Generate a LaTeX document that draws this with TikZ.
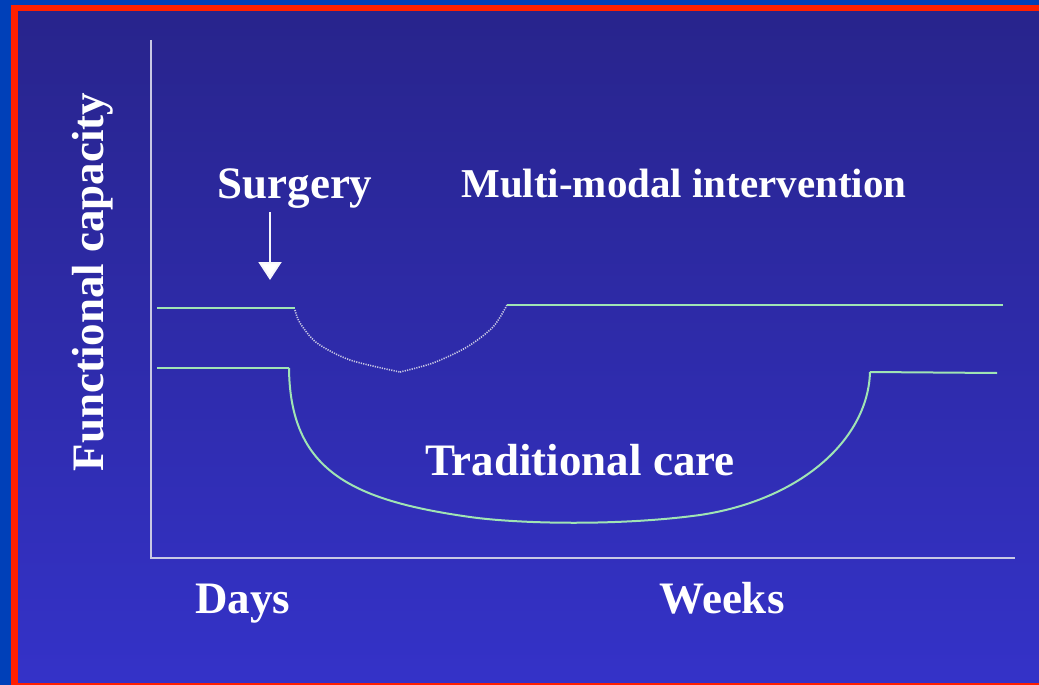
\documentclass[tikz,border=0pt]{standalone}
\usepackage{fontspec}
\setmainfont{Liberation Serif}
\usetikzlibrary{arrows.meta}

\definecolor{slideblue}{RGB}{0,64,184}
\definecolor{slidered}{RGB}{255,32,0}
\definecolor{slidetop}{RGB}{40,36,140}
\definecolor{slidebottom}{RGB}{52,50,200}
\definecolor{axisgray}{RGB}{200,200,228}
\definecolor{caregreen}{RGB}{160,228,180}

\tikzstyle{label text}=[text=white,inner sep=0pt,anchor=base,
    font=\fontsize{45}{50}\selectfont\bfseries]
\tikzstyle{axis line}=[draw=axisgray,line width=2pt]
\tikzstyle{care line}=[draw=caregreen,line width=2pt]
\tikzstyle{care dotted}=[draw=axisgray,line width=1.6pt,
    dash pattern=on 1.2pt off 1.2pt]
\tikzstyle{surgery arrow}=[draw=white!85!axisgray,line width=2pt,
    -{Triangle[width=23pt,length=18pt,fill=white]}]

\begin{document}
\begin{tikzpicture}[x=1pt,y=-1pt]
    \useasboundingbox (0,0) rectangle (1039,685);
    % slide frame
    \fill[slideblue] (0,0) rectangle (1039,685);
    \fill[slidered] (11,5) rectangle (1039,685);
    \shade[top color=slidetop,bottom color=slidebottom] (18,12) rectangle (1039,682);
    %
    \coordinate (ytop) at (151,40);
    \coordinate (origin) at (151,558);
    \coordinate (xend) at (1015,558);
    \draw[axis line] (ytop) -- (origin) -- (xend);
    %
    \node[label text,rotate=90] (capacity) at (103,282) {Functional capacity};
    \node[label text] (days) at (243,613) {Days};
    \node[label text] (weeks) at (722,613) {Weeks};
    \node[label text] (surgery) at (295,198) {Surgery};
    \node[label text,font=\fontsize{41}{46}\selectfont\bfseries] (multimodal)
        at (684,197) {Multi-modal intervention};
    \node[label text] (traditional) at (580,475) {Traditional care};
    %
    \coordinate (arrowstart) at (270,212);
    \coordinate (arrowtip) at (270,280);
    \draw[surgery arrow] (arrowstart) -- (arrowtip);
    %
    % multi-modal intervention
    \coordinate (mmleft) at (157,308);
    \coordinate (mmdrop) at (295,308);
    \coordinate (mmlow) at (400,372);
    \coordinate (mmrise) at (507,305);
    \coordinate (mmright) at (1003,305);
    \draw[care line] (mmleft) -- (mmdrop);
    \draw[care dotted] plot[smooth] coordinates
        {(295,310) (300,323) (317,343) (350,360) (400,372)};
    \draw[care dotted] plot[smooth] coordinates
        {(400,372) (433,363) (467,347) (493,327) (507,305)};
    \draw[care line] (mmrise) -- (mmright);
    %
    % traditional care
    \coordinate (tcleft) at (157,368);
    \coordinate (tcdrop) at (289,368);
    \coordinate (tclow) at (470,517);
    \coordinate (tcmid) at (700,515);
    \coordinate (tcrise) at (870,372);
    \coordinate (tcright) at (997,373);
    \draw[care line] (tcleft) -- (tcdrop);
    \draw[care line] (tcdrop) .. controls (290,470) and (350,500) .. (tclow)
        .. controls (520,524) and (620,526) .. (tcmid)
        .. controls (800,500) and (868,440) .. (tcrise);
    \draw[care line] (tcrise) -- (tcright);
\end{tikzpicture}
\end{document}
